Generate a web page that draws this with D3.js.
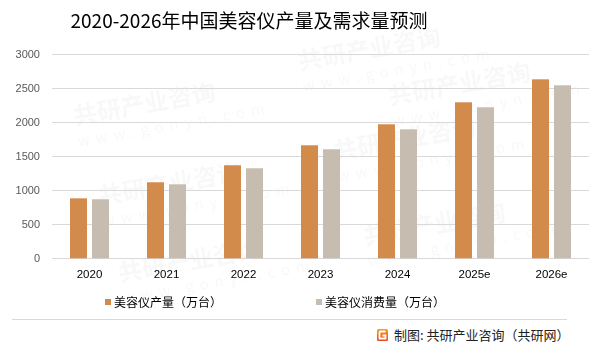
<!DOCTYPE html>
<html><head><meta charset="utf-8">
<script src="https://cdn.jsdelivr.net/npm/d3@7"></script>
<style>body{margin:0;background:#fff}svg{display:block}</style>
</head><body>
<script>
const categories = ["2020","2021","2022","2023","2024","2025e","2026e"];
const production = [882,1118,1368,1662,1971,2294,2632];
const demand = [868,1088,1324,1603,1897,2221,2544];
const yTicks = [0,500,1000,1500,2000,2500,3000];
const seriesNames = ["美容仪产量（万台）","美容仪消费量（万台）"];
const colors = ["#D38B4C","#C6BCB0"];
const title = "2020-2026年中国美容仪产量及需求量预测";
const source = "制图: 共研产业咨询（共研网）";

const W=602,H=346;
const svg=d3.select("body").append("svg").attr("width",W).attr("height",H);
const cjk="'Noto Sans CJK SC','Noto Sans',sans-serif";

// faint watermarks
const wm=svg.append("g").attr("fill","#000").attr("opacity",0.03).attr("font-family",cjk).attr("font-weight","bold");
[[75,125],[100,205],[120,282],[300,70],[335,160],[365,245],[390,105]].forEach(([x,y])=>{
  const g=wm.append("g").attr("transform",`translate(${x},${y}) rotate(-10)`);
  g.append("text").attr("font-size",24).text("共研产业咨询");
  g.append("text").attr("x",0).attr("y",22).attr("font-size",15).attr("letter-spacing",6).attr("font-weight","normal").text("www.gonyn.com");
});

const x=d3.scaleBand().domain(categories).range([51,590]).padding(0);
const y=d3.scaleLinear().domain([0,3000]).range([258.3,54.3]);

// gridlines
svg.append("g").selectAll("line").data(yTicks).join("line")
  .attr("x1",52).attr("x2",589).attr("y1",d=>Math.round(y(d))+0.5).attr("y2",d=>Math.round(y(d))+0.5)
  .attr("stroke","#d9d9d9").attr("stroke-width",1);

// y axis labels
const yAxis=d3.axisLeft(y).tickValues(yTicks).tickSize(0).tickPadding(0).tickFormat(d3.format("d"));
const ya=svg.append("g").attr("transform","translate(40,0)").call(yAxis);
ya.select(".domain").remove();
ya.selectAll("text").attr("font-family","'Liberation Sans',Arial,sans-serif").attr("font-size",11).attr("fill","#595959");

// x axis labels
const xAxis=d3.axisBottom(x).tickSize(0).tickPadding(0);
const xa=svg.append("g").attr("transform","translate(0,270)").call(xAxis);
xa.select(".domain").remove();
xa.selectAll("text").attr("font-family","'Liberation Sans',Arial,sans-serif").attr("font-size",11.5).attr("fill","#000");

// bars
const bw=17,gap=2.5;
const series=[production,demand];
series.forEach((vals,si)=>{
  svg.append("g").selectAll("rect").data(vals).join("rect")
    .attr("x",(d,i)=>x(categories[i])+x.bandwidth()/2+(si===0?-gap-bw:gap))
    .attr("width",bw)
    .attr("y",d=>y(d)).attr("height",d=>y(0)-y(d))
    .attr("fill",colors[si]);
});

// title
svg.append("text").attr("x",249).attr("y",28).attr("text-anchor","middle")
  .attr("font-family",cjk).attr("font-size",19).attr("fill","#000").text(title);

// legend
const legX=[105,316];
seriesNames.forEach((n,i)=>{
  svg.append("rect").attr("x",legX[i]).attr("y",299).attr("width",6).attr("height",6).attr("fill",colors[i]);
  svg.append("text").attr("x",legX[i]+9).attr("y",306.5).attr("font-family",cjk).attr("font-size",12).attr("fill","#000").text(n);
});

// separator
svg.append("line").attr("x1",12).attr("x2",567).attr("y1",319.5).attr("y2",319.5).attr("stroke","#d9d9d9");

// footer logo
const defs=svg.append("defs");
const lg=defs.append("linearGradient").attr("id","lg").attr("x1",0).attr("y1",0).attr("x2",0).attr("y2",1);
lg.append("stop").attr("offset",0).attr("stop-color","#F7A21B");
lg.append("stop").attr("offset",1).attr("stop-color","#E8461E");
const lgG=svg.append("g").attr("transform","translate(377,329)");
lgG.append("rect").attr("width",11).attr("height",12).attr("rx",1.5).attr("fill","url(#lg)");
lgG.append("path").attr("d","M2.5,2.5 H8.5 M2.5,2.5 V9.5 H8.5 V6.5 H5.5").attr("stroke","#fff").attr("stroke-width",1.8).attr("fill","none");
svg.append("text").attr("x",394).attr("y",339.5).attr("font-family",cjk).attr("font-size",13).attr("fill","#222").text(source);
</script>
</body></html>
